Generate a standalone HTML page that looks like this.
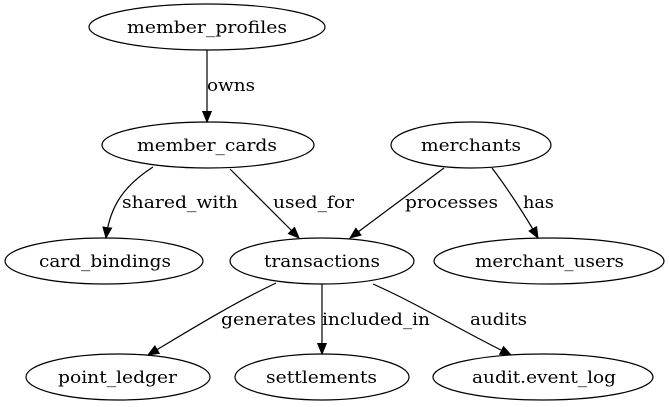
<!DOCTYPE html>
<html><head><meta charset="utf-8"><style>
html,body{margin:0;padding:0;background:#fff;}
svg{display:block;}
text{font-family:"DejaVu Serif",serif;font-size:17px;fill:#000;}
</style></head><body>
<svg width="669" height="407" viewBox="0 0 669 407" xmlns="http://www.w3.org/2000/svg">
<defs><marker id="a" markerWidth="12" markerHeight="10" refX="11" refY="5" orient="auto" markerUnits="userSpaceOnUse"><path d="M0,0.5 L11,5 L0,9.5 Z" fill="#000" stroke="#000" stroke-width="1"/></marker></defs>
<g fill="none" stroke="#000" stroke-width="1.2">
<ellipse cx="207" cy="27" rx="118" ry="23"/>
<ellipse cx="208" cy="145" rx="106" ry="23"/>
<ellipse cx="471" cy="145" rx="80" ry="23"/>
<ellipse cx="104" cy="261" rx="99" ry="23"/>
<ellipse cx="322" cy="261" rx="92" ry="23"/>
<ellipse cx="549" cy="261" rx="115" ry="23"/>
<ellipse cx="118" cy="377" rx="92" ry="23"/>
<ellipse cx="322" cy="377" rx="87" ry="23"/>
<ellipse cx="543" cy="377" rx="110" ry="23"/>
<path d="M207,50 L207,122" marker-end="url(#a)"/>
<path d="M153,167 C125,185 110,205 106,238" marker-end="url(#a)"/>
<path d="M230,169 L299,238" marker-end="url(#a)"/>
<path d="M444,168 L350,238" marker-end="url(#a)"/>
<path d="M492,168 C505,185 525,215 538,238" marker-end="url(#a)"/>
<path d="M276,283 C230,305 190,330 148,355" marker-end="url(#a)"/>
<path d="M322,284 L322,354" marker-end="url(#a)"/>
<path d="M373,284 C420,305 460,330 511,355" marker-end="url(#a)"/>
</g>
<g>
<text x="127" y="33" textLength="160" lengthAdjust="spacingAndGlyphs">member_profiles</text>
<text x="137" y="151" textLength="140" lengthAdjust="spacingAndGlyphs">member_cards</text>
<text x="421" y="151" textLength="100" lengthAdjust="spacingAndGlyphs">merchants</text>
<text x="39" y="267" textLength="132" lengthAdjust="spacingAndGlyphs">card_bindings</text>
<text x="264" y="267" textLength="116" lengthAdjust="spacingAndGlyphs">transactions</text>
<text x="475" y="267" textLength="149" lengthAdjust="spacingAndGlyphs">merchant_users</text>
<text x="58" y="383" textLength="119" lengthAdjust="spacingAndGlyphs">point_ledger</text>
<text x="266" y="383" textLength="111" lengthAdjust="spacingAndGlyphs">settlements</text>
<text x="472" y="383" textLength="144" lengthAdjust="spacingAndGlyphs">audit.event_log</text>
<text x="207" y="91" textLength="48" lengthAdjust="spacingAndGlyphs">owns</text>
<text x="122" y="208" textLength="116" lengthAdjust="spacingAndGlyphs">shared_with</text>
<text x="273" y="208" textLength="81" lengthAdjust="spacingAndGlyphs">used_for</text>
<text x="405" y="208" textLength="93" lengthAdjust="spacingAndGlyphs">processes</text>
<text x="523" y="208" textLength="31" lengthAdjust="spacingAndGlyphs">has</text>
<text x="221" y="325" textLength="95" lengthAdjust="spacingAndGlyphs">generates</text>
<text x="322" y="325" textLength="108" lengthAdjust="spacingAndGlyphs">included_in</text>
<text x="470" y="325" textLength="57" lengthAdjust="spacingAndGlyphs">audits</text>
</g>
</svg>
</body></html>
